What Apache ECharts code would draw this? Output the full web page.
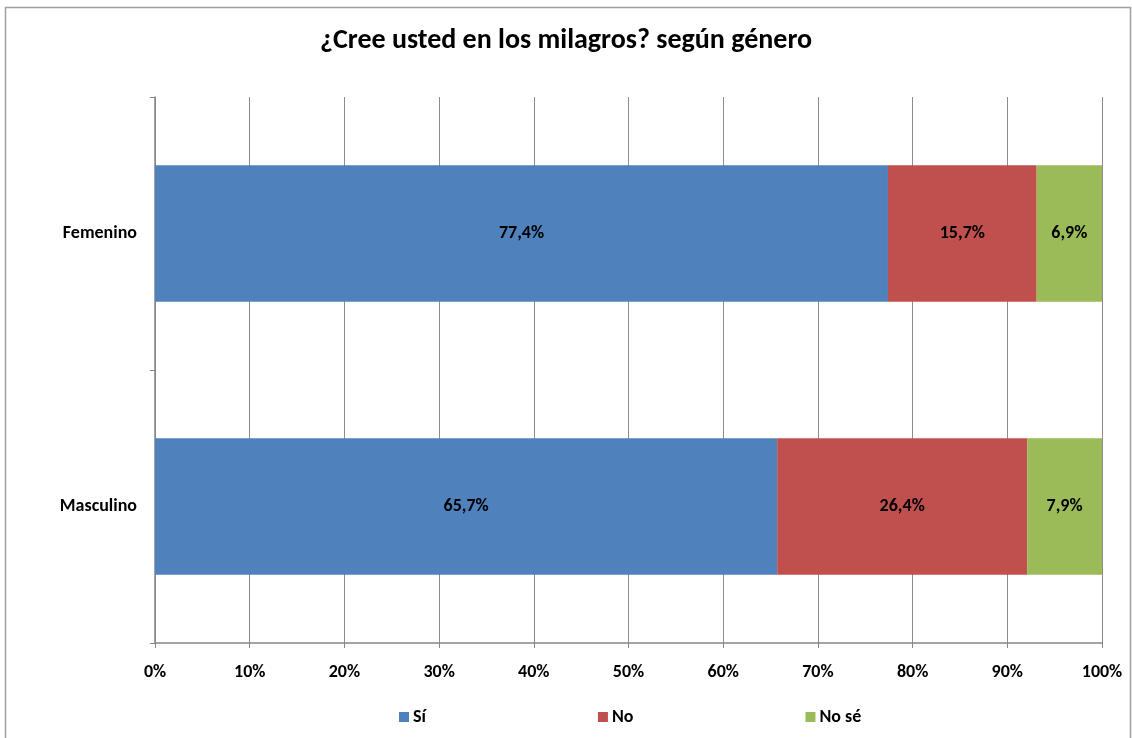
<!DOCTYPE html>
<html><head><meta charset="utf-8">
<script src="https://cdn.jsdelivr.net/npm/echarts@6/dist/echarts.min.js"></script>
<style>html,body{margin:0;padding:0;background:#fff}#c{width:1132px;height:738px}</style>
</head><body><div id="c"></div>
<script>
const categories = ['Femenino', 'Masculino'];
const seriesNames = ['Sí', 'No', 'No sé'];
const si = [77.4, 65.7];
const no = [15.7, 26.4];
const nose = [6.9, 7.9];
const colors = ['#4f81bd', '#c0504d', '#9bbb59'];
const FONT = 'Carlito, "Liberation Sans Narrow", "Liberation Sans", sans-serif';

const fmt = v => v.toFixed(1).replace('.', ',') + '%';
const mk = (name, data, i) => ({
  name, type: 'bar', stack: 'total', data, barWidth: '50%',
  itemStyle: { color: colors[i] },
  label: { show: true, position: 'inside', color: '#000', fontWeight: 'bold', fontSize: 18, fontFamily: FONT,
    formatter: p => fmt(p.value) },
  emphasis: { disabled: true }
});

const chart = echarts.init(document.getElementById('c'));
chart.setOption({
  animation: false,
  textStyle: { fontFamily: FONT },
  graphic: [{ type: 'rect', shape: { x: 5.5, y: 7.5, width: 1125, height: 740 },
    style: { fill: 'none', stroke: '#a0a0a0', lineWidth: 1.5 }, silent: true }],
  title: { text: '¿Cree usted en los milagros? según género', left: 'center', top: 22,
    textStyle: { fontSize: 28, fontWeight: 'bold', color: '#000', fontFamily: FONT } },
  legend: { top: 708, left: 399, padding: 0, itemWidth: 10, itemHeight: 10, itemGap: 172, icon: 'rect',
    data: seriesNames,
    textStyle: { fontSize: 18, fontWeight: 'bold', color: '#000', fontFamily: FONT, padding: [0,0,0,-1] } },
  grid: { left: 155, right: 30, top: 97, bottom: 95, containLabel: false },
  xAxis: { type: 'value', min: 0, max: 100, interval: 10,
    axisLabel: { formatter: v => v + '%', fontSize: 18, fontWeight: 'bold', color: '#000', margin: 20 },
    axisLine: { show: true, lineStyle: { color: '#868686', width: 1.5 } },
    axisTick: { show: true, length: 5, lineStyle: { color: '#868686' } },
    splitLine: { show: true, lineStyle: { color: '#8c8c8c', width: 1 } } },
  yAxis: { type: 'category', data: categories, inverse: true,
    axisLabel: { fontSize: 18, fontWeight: 'bold', color: '#000', margin: 18 },
    axisLine: { show: true, lineStyle: { color: '#868686', width: 1.5 } },
    axisTick: { show: true, length: 5, lineStyle: { color: '#868686' } } },
  series: [mk(seriesNames[0], si, 0), mk(seriesNames[1], no, 1), mk(seriesNames[2], nose, 2)]
});
</script></body></html>
